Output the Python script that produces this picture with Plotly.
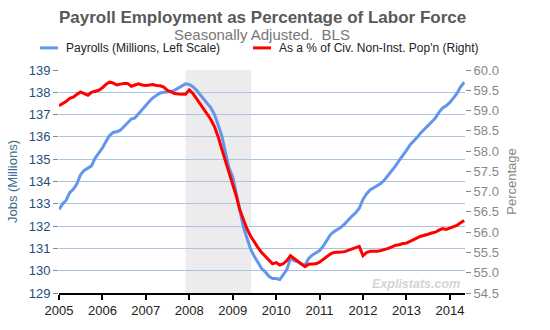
import pandas as pd
import plotly.graph_objects as go

months = pd.date_range("2005-01-01", "2014-05-01", freq="MS")

payrolls = [
    # 2005
    132.75, 133.00, 133.15, 133.50, 133.65, 133.90, 134.30, 134.50, 134.60, 134.70, 135.05, 135.25,
    # 2006
    135.50, 135.80, 136.05, 136.20, 136.23, 136.30, 136.45, 136.65, 136.80, 136.85, 137.05, 137.25,
    # 2007
    137.45, 137.60, 137.75, 137.87, 137.97, 138.00, 138.00, 138.03, 138.10, 138.20, 138.30, 138.38,
    # 2008
    138.35, 138.25, 138.10, 137.90, 137.70, 137.50, 137.30, 137.00, 136.55, 136.05, 135.30, 134.60,
    # 2009
    134.20, 133.45, 132.70, 131.95, 131.45, 130.95, 130.65, 130.35, 130.10, 129.95, 129.75, 129.65,
    # 2010
    129.65, 129.60, 129.80, 130.05, 130.55, 130.45, 130.40, 130.30, 130.25, 130.55, 130.70, 130.80,
    # 2011
    130.90, 131.10, 131.35, 131.60, 131.75, 131.85, 131.95, 132.10, 132.30, 132.45, 132.60, 132.80,
    # 2012
    133.20, 133.45, 133.62, 133.72, 133.82, 133.92, 134.08, 134.28, 134.50, 134.70, 134.95, 135.15,
    # 2013
    135.40, 135.65, 135.80, 135.98, 136.18, 136.35, 136.50, 136.65, 136.85, 137.10, 137.30, 137.40,
    # 2014
    137.55, 137.75, 137.95, 138.25, 138.45,
]

pct_pop = [
    # 2005
    59.12, 59.17, 59.22, 59.30, 59.33, 59.40, 59.46, 59.42, 59.38, 59.45, 59.48, 59.50,
    # 2006
    59.56, 59.65, 59.70, 59.68, 59.63, 59.65, 59.67, 59.67, 59.60, 59.63, 59.66, 59.63,
    # 2007
    59.62, 59.63, 59.64, 59.62, 59.61, 59.58, 59.50, 59.46, 59.42, 59.41, 59.40, 59.40,
    # 2008
    59.51, 59.42, 59.30, 59.17, 59.05, 58.93, 58.78, 58.60, 58.35, 58.05, 57.75, 57.45,
    # 2009
    57.20, 56.88, 56.55, 56.30, 56.08, 55.90, 55.75, 55.62, 55.50, 55.40, 55.30, 55.22,
    # 2010
    55.25, 55.19, 55.22, 55.30, 55.42, 55.35, 55.28, 55.20, 55.15, 55.21, 55.22, 55.22,
    # 2011
    55.26, 55.33, 55.40, 55.46, 55.50, 55.50, 55.51, 55.52, 55.56, 55.58, 55.62, 55.65,
    # 2012
    55.42, 55.50, 55.53, 55.53, 55.53, 55.55, 55.57, 55.60, 55.64, 55.68, 55.69, 55.72,
    # 2013
    55.73, 55.78, 55.82, 55.86, 55.90, 55.92, 55.95, 55.98, 56.00, 56.05, 56.09, 56.07,
    # 2014
    56.10, 56.14, 56.17, 56.23, 56.29,
]

series_names = ["Payrolls (Millions, Left Scale)", "As a % of Civ. Non-Inst. Pop'n (Right)"]
year_ticks = [f"{y}-01-01" for y in range(2005, 2015)]
year_labels = [str(y) for y in range(2005, 2015)]
left_ticks = list(range(129, 140))
right_ticks = [54.5 + 0.5 * i for i in range(12)]
right_labels = [f"{v:.1f}" for v in right_ticks]
recession_start = "2007-12-01"
recession_end = "2009-06-05"

FONT = "Arial, 'Liberation Sans', sans-serif"
BLUE = "#6495ed"
RED = "#ff0000"

fig = go.Figure()
fig.add_trace(go.Scatter(
    x=months, y=pct_pop, name=series_names[1],
    mode="lines", line=dict(color=RED, width=3), yaxis="y2", showlegend=False,
))
fig.add_trace(go.Scatter(
    x=months, y=payrolls, name=series_names[0],
    mode="lines", line=dict(color=BLUE, width=3), yaxis="y", showlegend=False,
))

fig.add_shape(type="rect", xref="x", yref="paper", x0=recession_start, x1=recession_end,
              y0=0, y1=1, fillcolor="#ececec", line=dict(width=0), layer="below")

# manual legend (plot area: 59..465 px wide, 70..302 px tall)
def px_x(px):
    return (px - 59) / 406.0

def px_y(py):
    return (302 - py) / 232.0

legend_y = px_y(47)
for (x0, x1, tx), color, name in zip([(40, 58, 64), (253, 271, 277)], [BLUE, RED], series_names):
    fig.add_shape(type="line", xref="paper", yref="paper", x0=px_x(x0), x1=px_x(x1),
                  y0=legend_y, y1=legend_y, line=dict(color=color, width=3))
    fig.add_annotation(text=name, xref="paper", yref="paper", x=px_x(tx), y=legend_y,
                       xanchor="left", yanchor="middle", showarrow=False,
                       font=dict(size=12, color="#222", family=FONT))

fig.update_layout(
    width=550, height=330,
    margin=dict(l=59, r=85, t=70, b=28),
    paper_bgcolor="white", plot_bgcolor="white",
    font=dict(family=FONT, size=13, color="#222"),
    showlegend=False,
    xaxis=dict(
        type="date", range=["2005-01-01", "2014-05-08"],
        tickmode="array", tickvals=year_ticks, ticktext=year_labels,
        showgrid=False, showline=True, linecolor="#000", linewidth=1.5,
        ticks="outside", ticklen=5, tickcolor="#000", tickwidth=1.5,
        tickfont=dict(size=13, color="#222"), zeroline=False,
    ),
    yaxis=dict(
        range=[129, 139], tickmode="array", tickvals=left_ticks,
        showgrid=True, gridcolor="#aec3df", gridwidth=1,
        ticks="outside", ticklen=5, tickcolor="#888", showline=False, zeroline=False,
        tickfont=dict(size=13, color="#1f4e79"),
        title=dict(text="Jobs (Millions)", font=dict(size=13, color="#3d7090"), standoff=8),
    ),
    yaxis2=dict(
        range=[54.5, 60.0], overlaying="y", side="right",
        tickmode="array", tickvals=right_ticks, ticktext=right_labels,
        showgrid=False, ticks="outside", ticklen=5, tickcolor="#888", showline=False,
        zeroline=False, tickfont=dict(size=13, color="#888"),
        title=dict(text="Percentage", font=dict(size=13, color="#888"), standoff=8),
    ),
)

fig.add_annotation(text="<b>Payroll Employment as Percentage of Labor Force</b>",
                   xref="paper", yref="paper", x=0.5, y=px_y(15), xanchor="center", yanchor="middle",
                   showarrow=False, font=dict(size=17, color="#595959", family=FONT))
fig.add_annotation(text="Seasonally Adjusted.  BLS",
                   xref="paper", yref="paper", x=0.5, y=px_y(33), xanchor="center", yanchor="middle",
                   showarrow=False, font=dict(size=15, color="#777", family=FONT))
fig.add_annotation(text="<b><i>Explistats.com</i></b>",
                   xref="paper", yref="paper", x=px_x(462), y=px_y(293), xanchor="right", yanchor="middle",
                   showarrow=False, font=dict(size=12.5, color="#d4d4d4", family=FONT))

fig.write_html("out.html")
